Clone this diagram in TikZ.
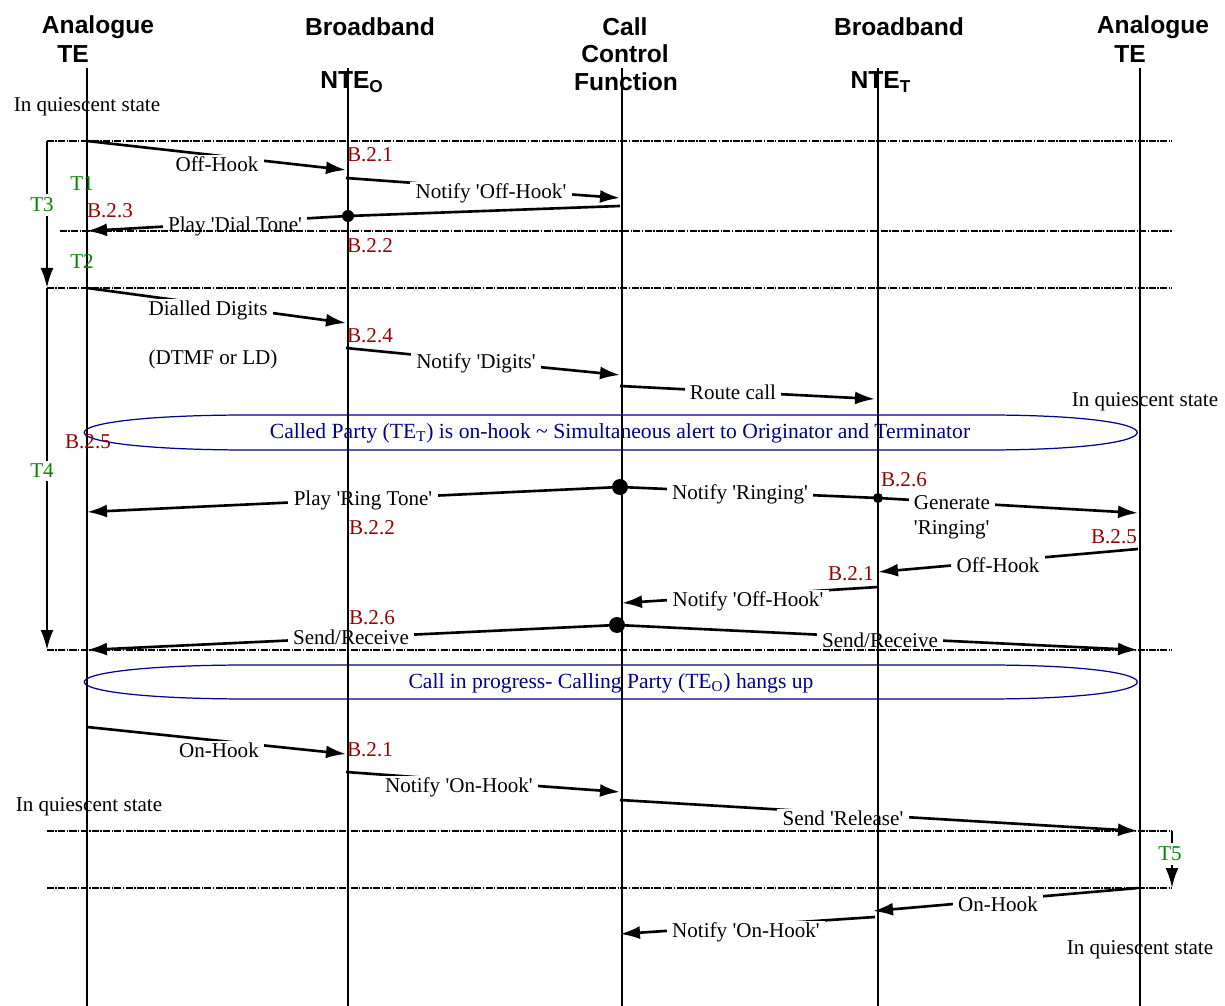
\documentclass[tikz,border=0pt]{standalone}
\usepackage{fontspec}
\setmainfont{Liberation Serif}[Ligatures=TeXOff]
\newfontfamily\headfont{Liberation Sans}
\usepackage{tikz}
\usetikzlibrary{arrows.meta}
\definecolor{bred}{RGB}{150,0,0}
\definecolor{tgreen}{RGB}{0,135,0}
\definecolor{bnavy}{RGB}{0,0,140}
\tikzstyle{head} = [font=\headfont\bfseries\fontsize{14}{16}\selectfont, inner sep=0pt]
\tikzstyle{life} = [line width=0.9pt]
\tikzstyle{rule} = [line width=0.6pt, dash pattern=on 4pt off 0.8pt on 0.8pt off 0.8pt]
\tikzstyle{msg} = [line width=1.5pt, -{Latex[length=4mm,width=2.6mm]}]
\tikzstyle{plain} = [line width=1.5pt]
\tikzstyle{lbl} = [fill=white, inner xsep=3pt, inner ysep=1pt]
\tikzstyle{ref} = [text=bred, inner sep=0pt]
\tikzstyle{tmr} = [text=tgreen, inner sep=0pt]
\tikzstyle{dot} = [circle, fill=black, inner sep=0pt]
\tikzstyle{band} = [draw=bnavy, line width=0.7pt]

\begin{document}
\begin{tikzpicture}[x=0.02cm, y=-0.02cm, font=\fontsize{12}{14}\selectfont]
	\useasboundingbox (0,0) rectangle (1225,1006);

	% headings
	\node[head] (anao) at (98,27) {Analogue};
	\node[head] (teo) at (73,54) {TE};
	\node[head] (bbo) at (370,27) {Broadband};
	\node[head] (nteo) at (352,82) {NTE\textsubscript{O}};
	\node[head] (call) at (625,27) {Call};
	\node[head] (ctrl) at (625,54) {Control};
	\node[head] (func) at (626,82) {Function};
	\node[head] (bbt) at (899,27) {Broadband};
	\node[head] (ntet) at (881,82) {NTE\textsubscript{T}};
	\node[head] (anat) at (1153,27) {Analogue};
	\node[head] (tet) at (1130,54) {TE};

	% end points of the messages
	\coordinate (a1) at (87,141);   \coordinate (b1) at (346,170);
	\coordinate (a2) at (346,178);  \coordinate (b2) at (620,198);
	\coordinate (a3) at (620,206);  \coordinate (b3) at (87,231);
	\coordinate (a4) at (87,288);   \coordinate (b4) at (346,323);
	\coordinate (a5) at (346,348);  \coordinate (b5) at (620,375);
	\coordinate (a6) at (620,386);  \coordinate (b6) at (875,399);
	\coordinate (b7) at (87,512);
	\coordinate (b9) at (1138,513);
	\coordinate (a10) at (1138,549); \coordinate (b10) at (878,572);
	\coordinate (a11) at (878,587);  \coordinate (b11) at (622,603);
	\coordinate (b12) at (87,650);   \coordinate (c12) at (1138,650);
	\coordinate (a13) at (87,727);   \coordinate (b13) at (346,754);
	\coordinate (a14) at (346,772);  \coordinate (b14) at (620,792);
	\coordinate (a15) at (620,800);  \coordinate (b15) at (1138,831);
	\coordinate (a16) at (1138,888); \coordinate (b16) at (873,911);
	\coordinate (a17) at (875,917);  \coordinate (b17) at (620,934);

	\node[dot, minimum size=2.4mm] (dtone) at (348,216) {};
	\node[dot, minimum size=3.2mm] (dring) at (620,487) {};
	\node[dot, minimum size=2mm] (dgen) at (878,498) {};
	\node[dot, minimum size=3.2mm] (dsend) at (617,625) {};

	% messages
	\draw[msg] (a1) -- (b1);
	\draw[msg] (a2) -- (b2);
	\draw[msg] (a3) -- (dtone.center) -- (b3);
	\draw[msg] (a4) -- (b4);
	\draw[msg] (a5) -- (b5);
	\draw[msg] (a6) -- (b6);
	\draw[msg] (dring.center) -- (b7);
	\draw[plain] (dring.center) -- (dgen.center);
	\draw[msg] (dgen.center) -- (b9);
	\draw[msg] (a10) -- (b10);
	\draw[msg] (a11) -- (b11);
	\draw[msg] (dsend.center) -- (b12);
	\draw[msg] (dsend.center) -- (c12);
	\draw[msg] (a13) -- (b13);
	\draw[msg] (a14) -- (b14);
	\draw[msg] (a15) -- (b15);
	\draw[msg] (a16) -- (b16);
	\draw[msg] (a17) -- (b17);

	% message labels
	\node[lbl] (m1) at (217,164) {Off-Hook};
	\node[lbl] (m2) at (491,193) {Notify 'Off-Hook'};
	\node[lbl] (m3) at (235,226) {Play 'Dial Tone'};
	\node[lbl] (m4) at (208,310) {Dialled Digits};
	\node (m4b) at (213,359) {(DTMF or LD)};
	\node[lbl] (m5) at (476,363) {Notify 'Digits'};
	\node[lbl] (m6) at (733,392) {Route call};
	\node[lbl] (m7) at (363,500) {Play 'Ring Tone'};
	\node[lbl] (m8) at (740,494) {Notify 'Ringing'};
	\node[lbl, align=left] (m9) at (952,517) {Generate\\'Ringing'};
	\node[lbl] (m10) at (998,565) {Off-Hook};
	\node[lbl] (m11) at (748,601) {Notify 'Off-Hook'};
	\node[lbl] (m12) at (351,637) {Send/Receive};
	\node[lbl] (m12b) at (880,640) {Send/Receive};
	\node[lbl] (m13) at (219,750) {On-Hook};
	\node[lbl] (m14) at (459,787) {Notify 'On-Hook'};
	\node[lbl] (m15) at (843,818) {Send 'Release'};
	\node[lbl] (m16) at (998,904) {On-Hook};
	\node[lbl] (m17) at (746,932) {Notify 'On-Hook'};

	% states
	\node (q1) at (87,107) {In quiescent state};
	\node (q2) at (1145,402) {In quiescent state};
	\node (q3) at (89,807) {In quiescent state};
	\node (q4) at (1140,950) {In quiescent state};

	% the two bands
	\draw[band] (250,415) -- (985,415) .. controls (1188,415) and (1188,450) .. (985,450)
		-- (250,450) .. controls (29,450) and (29,415) .. (250,415);
	\node[text=bnavy, font=\fontsize{12.3}{14}\selectfont] (band1) at (620,433) {Called Party (TE\textsubscript{T}) is on-hook \~{} Simultaneous alert to Originator and Terminator};
	\draw[band] (250,665) -- (985,665) .. controls (1188,665) and (1188,699) .. (985,699)
		-- (250,699) .. controls (29,699) and (29,665) .. (250,665);
	\node[text=bnavy, font=\fontsize{12.3}{14}\selectfont] (band2) at (611,683) {Call in progress- Calling Party (TE\textsubscript{O}) hangs up};

	% phase lines
	\foreach \x/\y in {47/141, 60/231, 47/288, 47/650, 47/831, 47/888}
		\draw[rule] (\x,\y) -- (1172,\y);

	% life lines
	\foreach \x in {87,348,622,878,1140}
		\draw[life] (\x,68) -- (\x,1006);

	% timers
	\coordinate (t3a) at (47,141); \coordinate (t3b) at (47,288);
	\coordinate (t4b) at (47,650);
	\coordinate (t5a) at (1172,831); \coordinate (t5b) at (1172,888);
	\draw[msg] (t3a) -- (t3b);
	\draw[msg] (t3b) -- (t4b);
	\draw[msg] (t5a) -- (t5b);
	\node[tmr, fill=white, inner ysep=2pt] (t3) at (42,205) {T3};
	\node[tmr, fill=white, inner ysep=2pt] (t4) at (42,471) {T4};
	\node[tmr, fill=white, inner ysep=2pt] (t5) at (1170,854) {T5};
	\node[tmr] (t1) at (82,184) {T1};
	\node[tmr] (t2) at (82,262) {T2};

	% references
	\node[ref] (r1) at (370,155) {B.2.1};
	\node[ref] (r2) at (110,211) {B.2.3};
	\node[ref] (r3) at (370,246) {B.2.2};
	\node[ref] (r4) at (370,336) {B.2.4};
	\node[ref] (r5) at (88,442) {B.2.5};
	\node[ref] (r6) at (904,480) {B.2.6};
	\node[ref] (r7) at (372,528) {B.2.2};
	\node[ref] (r8) at (1114,537) {B.2.5};
	\node[ref] (r9) at (851,574) {B.2.1};
	\node[ref] (r10) at (372,618) {B.2.6};
	\node[ref] (r11) at (370,750) {B.2.1};
\end{tikzpicture}
\end{document}
